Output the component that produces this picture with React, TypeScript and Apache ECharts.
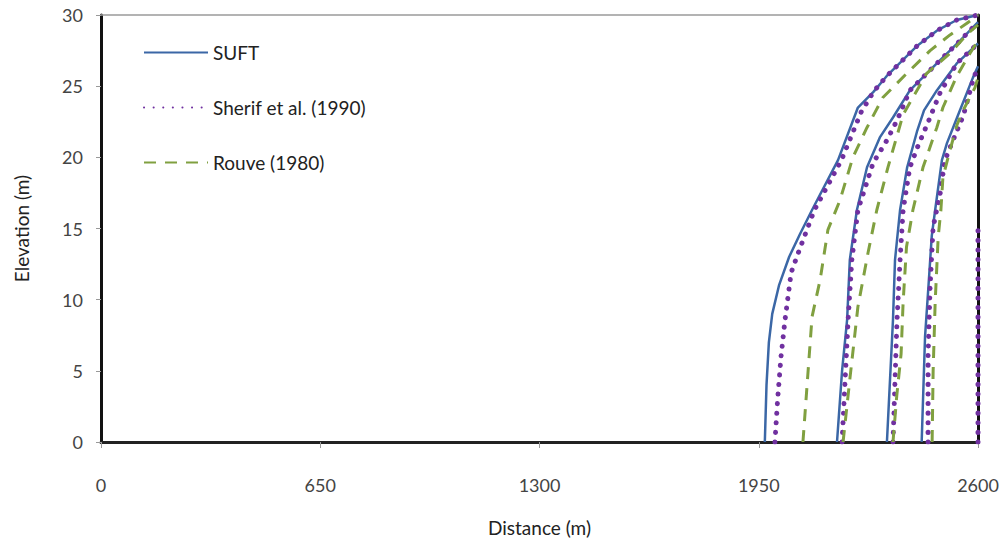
import React, { useEffect, useRef } from "react";
import * as echarts from "echarts";

type P = [number, number];

const xTicks = [0, 650, 1300, 1950, 2600];
const yTicks = [0, 5, 10, 15, 20, 25, 30];

const suft1: P[] = [[1968, 0], [1973, 4], [1980, 7], [1990, 9], [2010, 11], [2040, 13], [2072, 14.6], [2108, 16.3], [2185, 19.8], [2244, 23.5], [2290, 24.6], [2329, 25.7], [2418, 27.8], [2478, 28.9], [2537, 29.65], [2600, 30]];
const suft2: P[] = [[2182, 0], [2197, 5], [2212, 8.6], [2220, 12.8], [2241, 16.3], [2271, 19.3], [2309, 21.4], [2348, 22.8], [2398, 24.7], [2478, 26.6], [2547, 28.2], [2600, 29.5]];
const suft3: P[] = [[2330, 0], [2348, 8.6], [2354, 12.8], [2369, 16.3], [2390, 19.3], [2419, 21.8], [2440, 23.3], [2478, 24.7], [2537, 26.6], [2600, 28.0]];
const suft4: P[] = [[2433, 0], [2443, 7.4], [2453, 10.9], [2463, 14.5], [2473, 16.3], [2493, 19.8], [2508, 21.0], [2538, 22.8], [2585, 25.6], [2600, 26.4]];

const sherif1: P[] = [[1998, 0], [2006, 3], [2016, 6], [2028, 8.6], [2046, 11.9], [2072, 13.6], [2115, 16.3], [2195, 19.8], [2254, 23.2], [2290, 24.6], [2329, 25.7], [2418, 27.8], [2478, 28.9], [2537, 29.65], [2600, 30]];
const sherif2: P[] = [[2197, 0], [2215, 8.6], [2226, 12.8], [2244, 16.3], [2289, 19.6], [2330, 21.2], [2360, 22.6], [2398, 24.7], [2478, 26.6], [2547, 28.2], [2600, 29.5]];
const sherif3: P[] = [[2348, 0], [2360, 8.6], [2369, 12.8], [2378, 16.3], [2398, 19.3], [2422, 20.8], [2449, 22.3], [2487, 24.5], [2537, 26.6], [2600, 28.0]];
const sherif4: P[] = [[2452, 0], [2452, 6], [2458, 10.9], [2467, 15.1], [2488, 17.5], [2502, 19.8], [2526, 21.2], [2556, 22.9], [2585, 25.4], [2600, 26.4]];
const sherif5: P[] = [[2600, 0], [2600, 15]];

const rouve1: P[] = [[2081, 0], [2093, 3.9], [2108, 8.8], [2132, 11.4], [2155, 14.9], [2191, 17.0], [2229, 20.0], [2271, 22.1], [2318, 24.2], [2389, 25.9], [2458, 27.5], [2517, 28.6], [2566, 29.4], [2600, 30]];
const rouve2: P[] = [[2200, 0], [2220, 4.4], [2244, 9.5], [2274, 13.3], [2300, 16.3], [2333, 19.3], [2378, 23.0], [2448, 25.9], [2517, 27.3], [2570, 28.7], [2600, 29.3]];
const rouve3: P[] = [[2348, 0], [2359, 3.2], [2372, 6.2], [2378, 9.8], [2388, 13.7], [2407, 16.3], [2437, 19.3], [2478, 22.1], [2496, 23.5], [2537, 25.7], [2576, 27.3], [2600, 28.2]];
const rouve4: P[] = [[2464, 0], [2467, 5], [2473, 9.8], [2482, 14.4], [2490, 16.3], [2496, 18.6], [2517, 20.5], [2538, 22.3], [2556, 23.3], [2591, 24.9], [2600, 25.6]];

const names = ["SUFT", "Sherif et al. (1990)", "Rouve (1980)"];
const suftCurves = [suft1, suft2, suft3, suft4];
const sherifCurves = [sherif1, sherif2, sherif3, sherif4, sherif5];
const rouveCurves = [rouve1, rouve2, rouve3, rouve4];

const BLUE = "#3B67A6";
const PURPLE = "#7030A0";
const GREEN = "#80A040";
const FONT = "Lato";

export default function App() {
  const ref = useRef<HTMLDivElement>(null);
  useEffect(() => {
    if (!ref.current) return;
    const chart = echarts.init(ref.current, undefined, { renderer: "svg" });
    const mk = (name: string, data: P[], lineStyle: any, color: string) => ({
      type: "line",
      name,
      data,
      symbol: "none",
      showSymbol: false,
      smooth: false,
      color,
      lineStyle: { color, ...lineStyle },
      itemStyle: { color },
      z: 3,
    });
    const series: any[] = [];
    suftCurves.forEach((c) => series.push(mk(names[0], c, { width: 2.5, type: "solid" }, BLUE)));
    sherifCurves.forEach((c) => series.push(mk(names[1], c, { width: 5, type: [0.1, 9.5], cap: "round" }, PURPLE)));
    rouveCurves.forEach((c) => series.push(mk(names[2], c, { width: 3, type: [12, 9] }, GREEN)));

    chart.setOption({
      animation: false,
      backgroundColor: "#ffffff",
      grid: { left: 101, right: 30, top: 15, bottom: 108, containLabel: false },
      legend: {
        data: names,
        orient: "vertical",
        left: 138,
        top: 38,
        itemWidth: 64,
        itemHeight: 20,
        itemGap: 36,
        itemStyle: { opacity: 0 },
        textStyle: { fontFamily: FONT, fontSize: 19, color: "#222" },
      },
      xAxis: [
        {
          type: "value",
          min: 0,
          max: 2600,
          interval: 650,
          position: "bottom",
          name: "Distance (m)",
          nameLocation: "middle",
          nameGap: 76,
          nameTextStyle: { fontFamily: FONT, fontSize: 19, color: "#222" },
          axisLine: { show: true, onZero: false, lineStyle: { color: "#222", width: 3 } },
          axisTick: { show: true, length: 6, lineStyle: { color: "#999", width: 1 } },
          axisLabel: {
            margin: 34,
            fontFamily: FONT,
            fontSize: 18,
            color: "#444",
            formatter: (v: number) => (xTicks.includes(v) ? String(v) : ""),
          },
          splitLine: { show: false },
        },
        {
          type: "value",
          min: 0,
          max: 2600,
          position: "top",
          axisLine: { show: true, onZero: false, lineStyle: { color: "#9a9a9a", width: 1.5 } },
          axisTick: { show: false },
          axisLabel: { show: false },
          splitLine: { show: false },
        },
      ],
      yAxis: [
        {
          type: "value",
          min: 0,
          max: 30,
          interval: 5,
          position: "left",
          name: "Elevation (m)",
          nameLocation: "middle",
          nameGap: 70,
          nameRotate: 90,
          nameTextStyle: { fontFamily: FONT, fontSize: 19, color: "#222" },
          axisLine: { show: true, onZero: false, lineStyle: { color: "#111", width: 3 } },
          axisTick: { show: true, length: 5, lineStyle: { color: "#999", width: 1 } },
          axisLabel: {
            margin: 18,
            fontFamily: FONT,
            fontSize: 18,
            color: "#444",
            formatter: (v: number) => (yTicks.includes(v) ? String(v) : ""),
          },
          splitLine: { show: false },
        },
        {
          type: "value",
          min: 0,
          max: 30,
          position: "right",
          axisLine: { show: true, onZero: false, lineStyle: { color: "#111", width: 3 } },
          axisTick: { show: false },
          axisLabel: { show: false },
          splitLine: { show: false },
        },
      ],
      series,
    });
    return () => chart.dispose();
  }, []);
  return (
    <div
      ref={ref}
      style={{ position: "fixed", left: 0, top: 0, width: 1008, height: 550, background: "#fff" }}
    />
  );
}
